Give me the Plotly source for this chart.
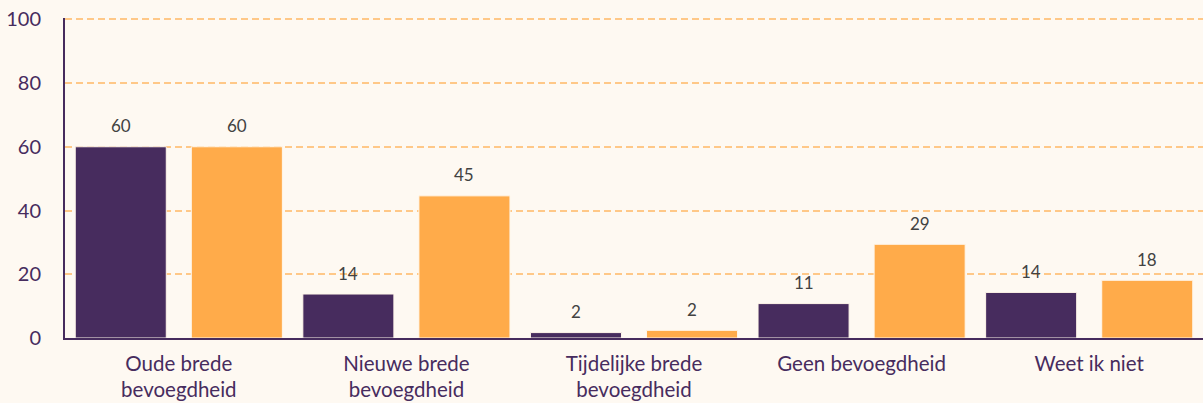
import plotly.graph_objects as go

categories = ["Oude brede<br>bevoegdheid", "Nieuwe brede<br>bevoegdheid",
              "Tijdelijke brede<br>bevoegdheid", "Geen bevoegdheid", "Weet ik niet"]
series_a = [60, 13.8, 1.7, 10.8, 14.3]
series_b = [60, 44.6, 2.4, 29.4, 18.1]
labels_a = ["60", "14", "2", "11", "14"]
labels_b = ["60", "45", "2", "29", "18"]
y_ticks = [0, 20, 40, 60, 80, 100]

PURPLE = "#472c5e"
ORANGE = "#ffab4a"
BG = "#fef9f2"

fig = go.Figure()
for vals, col, off in [(series_a, PURPLE, -0.455), (series_b, ORANGE, 0.055)]:
    fig.add_trace(go.Bar(
        x=list(range(len(categories))), y=vals, marker=dict(color=col, line=dict(color="#fff6ea", width=1)),
        width=0.4, offset=off, showlegend=False, hoverinfo="skip"))

for vals, labs, shift in [(series_a, labels_a, -0.255), (series_b, labels_b, 0.255)]:
    for i, (v, t) in enumerate(zip(vals, labs)):
        fig.add_annotation(x=i + shift, y=v, text=t, showarrow=False, yanchor="middle",
                           yshift=21, font=dict(family="Lato", size=17, color="#424242"))

fig.update_layout(
    width=1203, height=403,
    margin=dict(l=65, r=0, t=18, b=65),
    paper_bgcolor=BG, plot_bgcolor=BG,
    barmode="overlay",
    font=dict(family="Lato", color=PURPLE),
    xaxis=dict(range=[-0.5, len(categories) - 0.5], tickmode="array",
               tickvals=list(range(len(categories))), ticktext=categories,
               showgrid=False, zeroline=False, showline=True, linecolor=PURPLE, linewidth=2,
               tickfont=dict(family="Lato", size=20.5, color=PURPLE), ticks="",
               ticklabelstandoff=6),
    yaxis=dict(range=[0, 100.4], tickvals=y_ticks, showgrid=True, gridcolor="#ffc888",
               griddash="7px,4px", gridwidth=1.5, zeroline=False, showline=True, linecolor=PURPLE,
               linewidth=2, tickfont=dict(family="Lato", size=20, color=PURPLE), ticks="",
               ticklabelstandoff=18),
)

fig.write_html("out.html", config={"displayModeBar": False},
               post_script="document.body.style.margin='0';document.body.style.padding='0';")
